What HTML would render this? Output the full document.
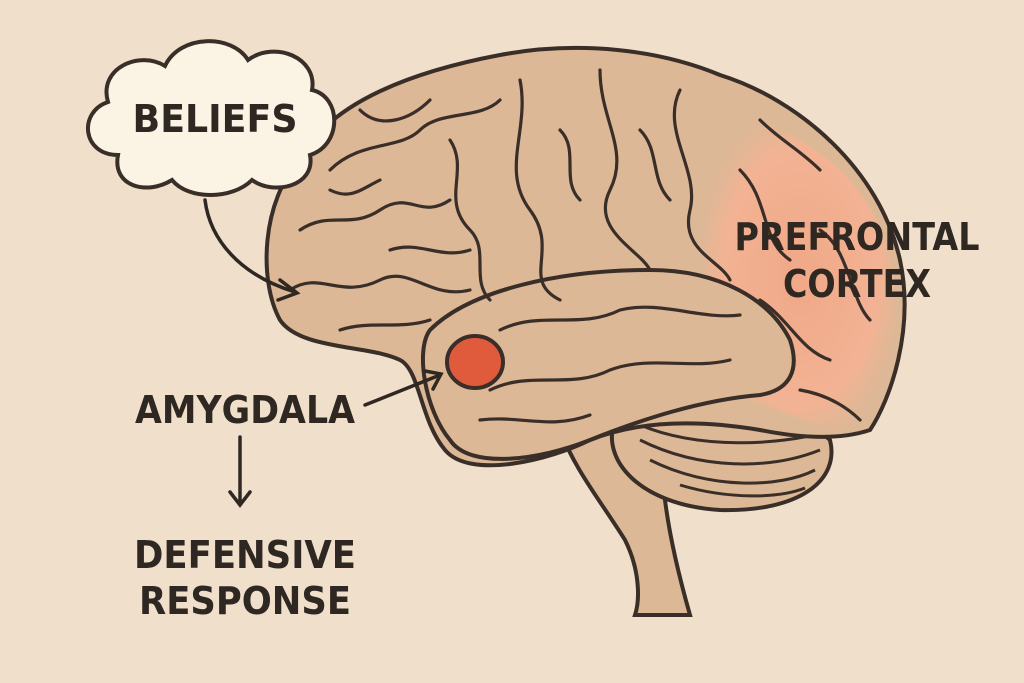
<!DOCTYPE html>
<html><head><meta charset="utf-8"><style>
html,body{margin:0;padding:0;background:#f0e0cb;}
svg{display:block}
text{font-family:"DejaVu Sans","Liberation Sans",sans-serif;font-weight:bold;fill:#2e2722;}
</style></head><body>
<svg width="1024" height="683" viewBox="0 0 1024 683" xmlns="http://www.w3.org/2000/svg">
<defs>
<radialGradient id="pf" cx="0.5" cy="0.5" r="0.6">
<stop offset="0" stop-color="#f0a888"/><stop offset="0.7" stop-color="#f2b394"/><stop offset="1" stop-color="#dcb896" stop-opacity="0"/>
</radialGradient>
</defs>
<rect width="1024" height="683" fill="#f0e0cb"/>
<!-- brainstem -->
<path d="M560,430 C575,470 600,500 625,540 C640,570 640,600 635,615 L690,615 C680,580 670,540 665,500 C662,470 665,450 670,430 Z" fill="#dcb896" stroke="#3a2e28" stroke-width="4"/>
<!-- cerebellum -->
<path d="M615,420 C600,460 640,505 720,510 C800,512 840,480 830,440 C810,420 720,405 615,420 Z" fill="#dcb896" stroke="#3a2e28" stroke-width="4"/>
<path d="M640,440 C700,470 770,470 820,450 M650,460 C710,490 780,488 815,470 M680,485 C730,500 780,498 805,488 M640,425 C700,450 780,445 825,432" fill="none" stroke="#3a2e28" stroke-width="3"/>
<!-- cerebrum -->
<path d="M300,160 C330,100 420,70 500,55 C580,40 660,50 720,75 C800,100 880,170 900,260 C915,330 890,400 870,430 C840,440 800,438 760,430 C700,420 640,420 590,440 C550,460 470,480 445,450 C420,420 420,370 400,360 C370,345 300,350 280,320 C258,280 262,200 300,160 Z" fill="#dcb896" stroke="#3a2e28" stroke-width="4"/>
<path d="M720,120 C800,120 880,180 895,280 C900,350 880,410 860,432 C820,430 780,410 720,390 C700,330 700,200 720,120 Z" fill="url(#pf)"/>
<!-- temporal lobe -->
<path d="M430,330 C470,290 560,270 650,270 C720,270 770,300 790,340 C800,370 790,390 760,395 C700,400 640,420 590,440 C540,460 470,470 450,440 C425,410 415,350 430,330 Z" fill="#dcb896" stroke="#3a2e28" stroke-width="4"/>
<!-- gyri -->
<g fill="none" stroke="#3a2e28" stroke-width="3.2" stroke-linecap="round">
<path d="M330,170 C360,140 400,150 420,130 C440,110 480,120 500,100"/>
<path d="M300,230 C330,210 350,230 380,210 C410,190 420,220 450,200"/>
<path d="M290,290 C320,270 340,300 380,280 C410,265 430,300 470,290"/>
<path d="M340,330 C370,320 400,330 430,320"/>
<path d="M520,80 C530,130 500,170 530,210 C560,250 520,280 560,300"/>
<path d="M600,70 C600,120 630,150 610,190 C590,230 640,250 650,270"/>
<path d="M680,90 C660,130 700,170 690,210 C680,250 720,260 730,280"/>
<path d="M450,140 C470,170 440,200 470,230 C490,250 470,280 490,300"/>
<path d="M390,250 C420,240 440,260 470,250"/>
<path d="M560,130 C580,150 560,180 580,200"/>
<path d="M740,170 C770,200 760,240 790,260"/>
<path d="M760,300 C790,320 800,350 830,360"/>
<path d="M820,230 C850,250 850,300 870,320"/>
<path d="M800,390 C830,395 850,410 860,420"/>
<path d="M500,330 C540,310 580,330 620,310 C660,300 700,320 740,315"/>
<path d="M490,390 C530,370 570,390 610,370 C650,355 690,370 730,360"/>
<path d="M480,420 C520,415 550,430 590,415"/>
<path d="M360,110 C380,130 410,120 430,100"/>
<path d="M640,130 C660,150 650,180 670,200"/>
<path d="M760,120 C780,140 800,150 820,170"/>
<path d="M330,190 C350,200 360,190 380,180"/>
</g>
<!-- amygdala -->
<ellipse cx="475" cy="362" rx="28" ry="26" fill="#e05a3c" stroke="#3a2e28" stroke-width="4"/>
<!-- cloud -->
<path d="M118,155 C82,155 78,112 108,102 C98,68 140,50 165,66 C180,34 232,34 248,60 C275,40 318,58 312,90 C342,97 342,145 310,155 C316,186 274,196 252,180 C232,200 188,200 172,180 C146,196 112,186 118,155 Z" fill="#fbf3e4" stroke="#3a2e28" stroke-width="4"/>
<text x="215" y="132" font-size="38" text-anchor="middle" textLength="165" lengthAdjust="spacingAndGlyphs">BELIEFS</text>
<!-- arrows -->
<g fill="none" stroke="#2e2722" stroke-width="3.5" stroke-linecap="round">
<path d="M205,200 C210,240 240,275 295,292"/>
<path d="M280,280 L297,293 L278,300"/>
<path d="M365,405 L440,375"/>
<path d="M425,371 L441,374 L433,389"/>
<path d="M240,437 L240,503"/>
<path d="M230,492 L240,505 L250,492"/>
</g>
<text x="857" y="250" font-size="38" text-anchor="middle" textLength="245" lengthAdjust="spacingAndGlyphs">PREFRONTAL</text>
<text x="857" y="297" font-size="38" text-anchor="middle" textLength="148" lengthAdjust="spacingAndGlyphs">CORTEX</text>
<text x="245" y="423" font-size="38" text-anchor="middle" textLength="220" lengthAdjust="spacingAndGlyphs">AMYGDALA</text>
<text x="245" y="568" font-size="38" text-anchor="middle" textLength="222" lengthAdjust="spacingAndGlyphs">DEFENSIVE</text>
<text x="245" y="614" font-size="38" text-anchor="middle" textLength="212" lengthAdjust="spacingAndGlyphs">RESPONSE</text>
</svg>
</body></html>
